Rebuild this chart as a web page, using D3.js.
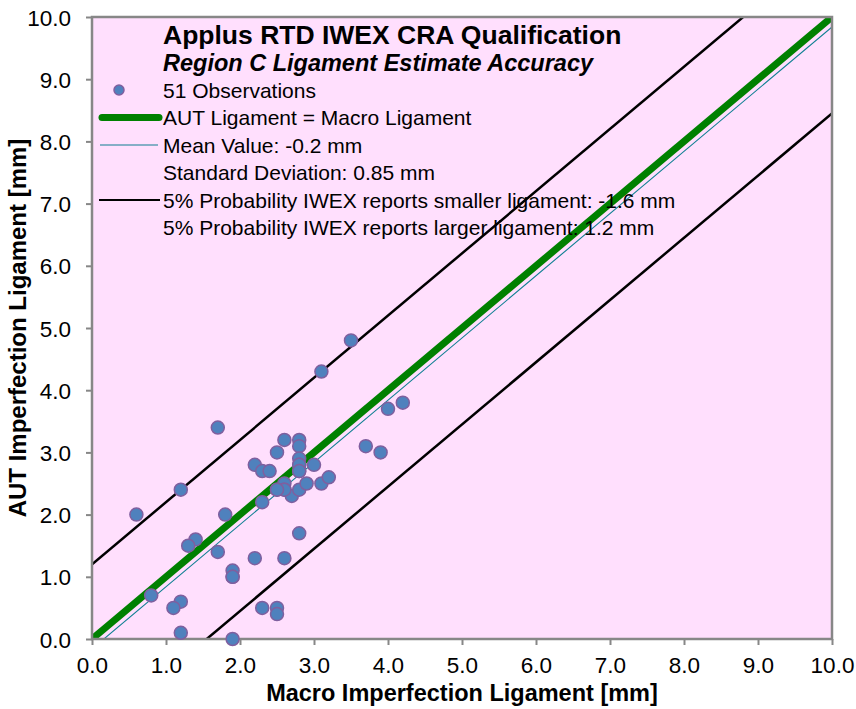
<!DOCTYPE html>
<html>
<head>
<meta charset="utf-8">
<script src="https://cdn.jsdelivr.net/npm/d3@7"></script>
<style>
  body { margin: 0; background: #fff; }
  text { font-family: "Liberation Sans", Arial, sans-serif; fill: #000; }
</style>
</head>
<body>
<svg id="chart"></svg>
<script>
// observations: macro ligament (x) vs AUT ligament (y), mm
const macroLig = [3.5, 3.1, 1.7, 1.2, 0.6, 1.8, 1.4, 1.3, 1.7, 1.9, 1.9, 0.8, 1.2, 1.1, 1.2, 1.9, 2.3, 2.5, 2.5,
                  2.2, 2.6, 2.8, 2.3, 2.2, 2.3, 2.4, 2.5, 2.6, 2.8, 2.8, 2.8, 2.8, 2.8, 3.0, 2.6, 2.5, 2.6, 2.7,
                  2.8, 2.9, 3.1, 3.2, 3.7, 3.9, 4.0, 4.2, 2.8, 2.6, 2.8, 2.5, 1.9];
const autLig   = [4.8, 4.3, 3.4, 2.4, 2.0, 2.0, 1.6, 1.5, 1.4, 1.1, 1.0, 0.7, 0.6, 0.5, 0.1, 0.0, 0.5, 0.5, 0.4,
                  1.3, 1.3, 1.7, 2.2, 2.8, 2.7, 2.7, 3.0, 3.2, 3.2, 3.1, 2.9, 2.8, 2.7, 2.8, 2.5, 2.4, 2.4, 2.3,
                  2.4, 2.5, 2.5, 2.6, 3.1, 3.0, 3.7, 3.8, 2.8, 2.4, 2.7, 2.4, 1.0];

// reference lines y = x + offset
const meanOffset = -0.16;
const lowerOffset = -1.55;
const upperOffset = 1.2;

const tickValues = [0, 1, 2, 3, 4, 5, 6, 7, 8, 9, 10];

const titleLines = ["Applus RTD IWEX CRA Qualification", "Region C Ligament Estimate Accuracy"];
const legendLabels = [
    "51 Observations",
    "AUT Ligament = Macro Ligament",
    "Mean Value: -0.2 mm",
    "Standard Deviation: 0.85 mm",
    "5% Probability IWEX reports smaller ligament: -1.6 mm",
    "5% Probability IWEX reports larger ligament: 1.2 mm"
];

const width = 856, height = 709;
const margin = {top: 17, right: 24, bottom: 70, left: 92};

const svg = d3.select('#chart')
    .attr('width', width)
    .attr('height', height);

const inner_width = width - margin.left - margin.right;
const inner_height = height - margin.top - margin.bottom;

const xscale = d3.scaleLinear().domain([0, 10]).range([0, inner_width]);
const yscale = d3.scaleLinear().domain([0, 10]).range([inner_height, 0]);

const chart = svg.append('g')
    .attr('transform', `translate(${margin.left}, ${margin.top})`);

chart.append('rect')
    .attr('width', inner_width)
    .attr('height', inner_height)
    .attr('fill', '#ffdffd');

chart.append('clipPath').attr('id', 'plotclip')
    .append('rect')
    .attr('width', inner_width)
    .attr('height', inner_height);

// axes
const fmt = d3.format('.1f');
const xaxis = d3.axisBottom(xscale).tickValues(tickValues).tickFormat(fmt).tickSize(6).tickSizeOuter(0);
const yaxis = d3.axisLeft(yscale).tickValues(tickValues).tickFormat(fmt).tickSize(6).tickSizeOuter(0);

const xg = chart.append('g')
    .attr('transform', `translate(0, ${inner_height})`)
    .call(xaxis);
const yg = chart.append('g').call(yaxis);

[xg, yg].forEach(g => {
    g.select('.domain').remove();
    g.selectAll('line').attr('stroke', '#878787').attr('stroke-width', 2);
    g.selectAll('text').style('font-size', '22.5px').attr('fill', '#000');
});
xg.selectAll('text').attr('dy', null).attr('y', 34);
yg.selectAll('text').attr('x', -21).attr('dy', '0.36em');

// reference lines
const line = d3.line().x(d => xscale(d[0])).y(d => yscale(d[1]));
const lineData = off => [[-1, -1 + off], [11, 11 + off]];

const lines = chart.append('g').attr('clip-path', 'url(#plotclip)');
lines.append('path').datum(lineData(upperOffset)).attr('d', line)
    .attr('stroke', '#000').attr('stroke-width', 2.5).attr('fill', 'none');
lines.append('path').datum(lineData(lowerOffset)).attr('d', line)
    .attr('stroke', '#000').attr('stroke-width', 2.5).attr('fill', 'none');
lines.append('path').datum(lineData(0)).attr('d', line)
    .attr('stroke', '#008000').attr('stroke-width', 7).attr('fill', 'none');
lines.append('path').datum(lineData(meanOffset)).attr('d', line)
    .attr('stroke', '#0e7f92').attr('stroke-width', 1.1).attr('fill', 'none');

// frame
chart.append('rect')
    .attr('width', inner_width)
    .attr('height', inner_height)
    .attr('fill', 'none')
    .attr('stroke', '#878787')
    .attr('stroke-width', 2.5);

// points
chart.append('g').selectAll('circle')
    .data(macroLig.map((d, i) => [d, autLig[i]]))
    .enter()
    .append('circle')
    .attr('cx', d => xscale(d[0]))
    .attr('cy', d => yscale(d[1]))
    .attr('r', 6.5)
    .attr('fill', '#4f81bd')
    .attr('stroke', '#7f5f9f')
    .attr('stroke-width', 1.5);

// titles and legend
const lx = 163;
svg.append('text').attr('x', lx).attr('y', 44)
    .style('font-size', '26.5px').style('font-weight', 'bold')
    .text(titleLines[0]);
svg.append('text').attr('x', lx).attr('y', 71)
    .style('font-size', '23.5px').style('font-weight', 'bold').style('font-style', 'italic')
    .text(titleLines[1]);

const rowY = [90, 117.5, 145, 172, 200, 227];
legendLabels.forEach((t, i) => {
    svg.append('text').attr('x', lx).attr('y', rowY[i]).attr('dy', '0.36em')
        .style('font-size', '21px')
        .text(t);
});
svg.append('circle').attr('cx', 119).attr('cy', rowY[0]).attr('r', 5)
    .attr('fill', '#4f81bd').attr('stroke', '#7f5f9f').attr('stroke-width', 1.5);
svg.append('line').attr('x1', 102).attr('x2', 159).attr('y1', rowY[1]).attr('y2', rowY[1])
    .attr('stroke', '#008000').attr('stroke-width', 7).attr('stroke-linecap', 'round');
svg.append('line').attr('x1', 100).attr('x2', 158).attr('y1', rowY[2]).attr('y2', rowY[2])
    .attr('stroke', '#0e7f92').attr('stroke-width', 1.1);
svg.append('line').attr('x1', 99).attr('x2', 160).attr('y1', rowY[4]).attr('y2', rowY[4])
    .attr('stroke', '#000').attr('stroke-width', 2);

// axis titles
svg.append('text')
    .attr('x', margin.left + inner_width / 2)
    .attr('y', 701)
    .attr('text-anchor', 'middle')
    .style('font-size', '23.5px').style('font-weight', 'bold')
    .text('Macro Imperfection Ligament [mm]');
svg.append('text')
    .attr('transform', `translate(26, ${margin.top + inner_height / 2}) rotate(-90)`)
    .attr('text-anchor', 'middle')
    .style('font-size', '24px').style('font-weight', 'bold')
    .text('AUT Imperfection Ligament [mm]');
</script>
</body>
</html>
